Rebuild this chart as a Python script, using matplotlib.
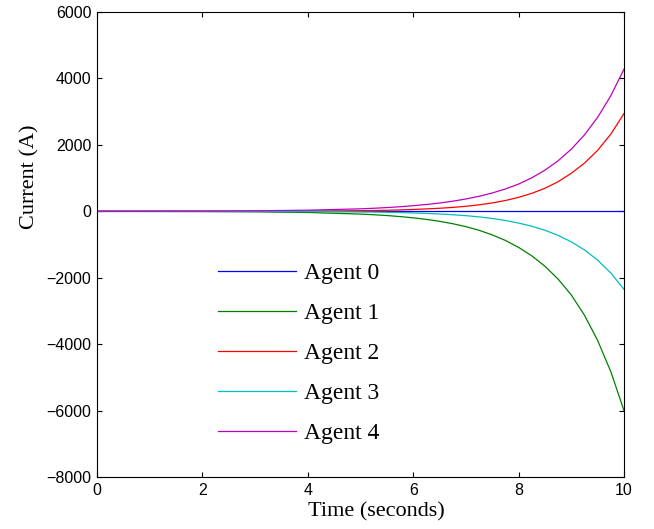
import matplotlib
matplotlib.use("Agg")
import matplotlib.pyplot as plt

# time samples (seconds)
t = [0, 1, 2, 3, 4, 5, 5.25, 5.5, 5.75, 6, 6.25, 6.5, 6.75, 7, 7.25, 7.5, 7.75,
     8, 8.25, 8.5, 8.75, 9, 9.25, 9.5, 9.75, 10]

agent0 = [0] * len(t)
agent1 = [-1, -3, -6, -15, -36, -84, -104, -128, -159, -197, -244, -302, -374, -463,
          -573, -710, -878, -1087, -1341, -1655, -2042, -2520, -3130, -3889, -4830, -6000]
agent2 = [0, 0, 0, 1, 5, 18, 24, 31, 41, 55, 71, 91, 117, 150,
          194, 251, 325, 420, 540, 693, 891, 1145, 1450, 1836, 2324, 2943]
agent3 = [0, 0, -1, -2, -6, -18, -23, -30, -39, -50, -64, -81, -104, -132,
          -169, -216, -277, -355, -450, -572, -725, -920, -1163, -1470, -1859, -2350]
agent4 = [1, 3, 6, 15, 33, 74, 91, 112, 137, 168, 205, 249, 304, 370,
          451, 551, 672, 820, 1008, 1238, 1521, 1870, 2300, 2829, 3480, 4280]

series = [agent0, agent1, agent2, agent3, agent4]
labels = ["Agent 0", "Agent 1", "Agent 2", "Agent 3", "Agent 4"]
colors = ["#0000FF", "#008000", "#FF0000", "#00BFBF", "#BF00BF"]

xticks = [0, 2, 4, 6, 8, 10]
yticks = [-8000, -6000, -4000, -2000, 0, 2000, 4000, 6000]

fig = plt.figure(figsize=(6.54, 5.29), dpi=100)
ax = fig.add_axes([97/654, 1 - 477/529, (624-97)/654, (477-12)/529])

for y, lab, c in zip(series, labels, colors):
    ax.plot(t, y, color=c, lw=0.9, label=lab)

ax.set_xlim(0, 10)
ax.set_ylim(-8000, 6000)
ax.set_xticks(xticks)
ax.set_yticks(yticks)
ax.tick_params(direction="in", length=3.6, width=0.8, top=True, right=True,
               labelsize=11.5, pad=4)
for lab in ax.get_xticklabels() + ax.get_yticklabels():
    lab.set_family("Liberation Sans")
for s in ax.spines.values():
    s.set_linewidth(0.8)

ax.set_xlabel("Time (seconds)", family="Liberation Serif", fontsize=16)
ax.xaxis.set_label_coords(0.530, -0.055, transform=ax.transAxes)
ax.xaxis.label.set_va("top")
ax.set_ylabel("Current (A)", family="Liberation Serif", fontsize=16)
ax.yaxis.set_label_coords(-0.127, 0.646, transform=ax.transAxes)
ax.yaxis.label.set_va("center")

leg = ax.legend(loc="upper left", bbox_to_anchor=(0.23, 0.461), frameon=False,
                prop={"family": "Liberation Serif", "size": 17},
                handlelength=3.3, handletextpad=0.32, labelspacing=0.78,
                borderpad=0, borderaxespad=0)

fig.savefig("out.png", dpi=100)
